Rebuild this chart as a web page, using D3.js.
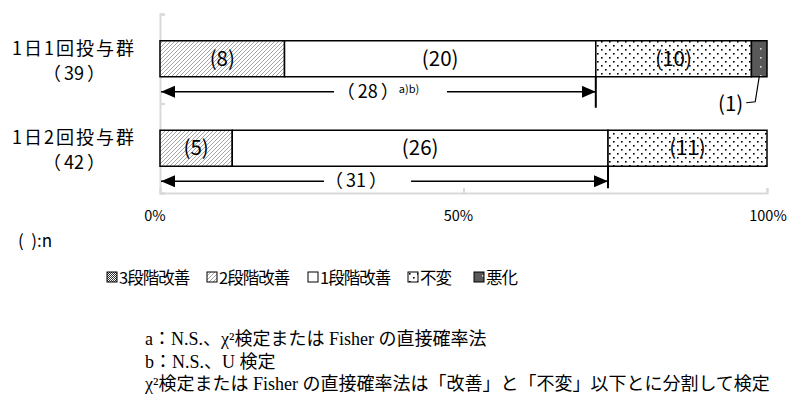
<!DOCTYPE html>
<html>
<head>
<meta charset="utf-8">
<script src="https://cdn.jsdelivr.net/npm/d3@7"></script>
<style>
  body { margin: 0; background: #fff; }
  svg { display: block; }
  .jp { font-family: "Noto Sans CJK JP", "Open Sans", sans-serif; }
  .serif { font-family: "Liberation Serif", "Noto Sans CJK JP", serif; }
</style>
</head>
<body>
<svg width="787" height="403"></svg>
<script>
// **** data ****
var groups = ["1日1回投与群", "1日2回投与群"];
var groupN = [39, 42];
var categories = ["3段階改善", "2段階改善", "1段階改善", "不変", "悪化"];
var countsOnce = [0, 8, 20, 10, 1];
var countsTwice = [0, 5, 26, 11, 0];
var improved = [28, 31];
var improvedNote = ["a)b)", ""];
var tickValues = [0, 0.5, 1];
var notes = [
    "a：N.S.、χ²検定または Fisher の直接確率法",
    "b：N.S.、U 検定",
    "χ²検定または Fisher の直接確率法は「改善」と「不変」以下とに分割して検定"
];

var svg = d3.select("svg");
var defs = svg.append("defs");

// patterns
var p2 = defs.append("pattern").attr("id", "hatch").attr("patternUnits", "userSpaceOnUse")
    .attr("width", 4).attr("height", 4);
p2.append("rect").attr("width", 4).attr("height", 4).attr("fill", "#fff");
p2.append("path").attr("d", "M-1,5 L5,-1 M-1,1 L1,-1 M3,5 L5,3").attr("stroke", "#9a9a9a").attr("stroke-width", 0.9);

var pd = defs.append("pattern").attr("id", "dots").attr("patternUnits", "userSpaceOnUse")
    .attr("width", 8).attr("height", 8);
pd.append("rect").attr("width", 8).attr("height", 8).attr("fill", "#fff");
pd.append("rect").attr("x", 1).attr("y", 1).attr("width", 1.6).attr("height", 1.6).attr("fill", "#000");
pd.append("rect").attr("x", 5).attr("y", 5).attr("width", 1.6).attr("height", 1.6).attr("fill", "#000");

var pw = defs.append("pattern").attr("id", "worse").attr("patternUnits", "userSpaceOnUse")
    .attr("width", 16).attr("height", 9);
pw.append("rect").attr("width", 16).attr("height", 9).attr("fill", "#595959");
pw.append("rect").attr("x", 8).attr("y", 3).attr("width", 1.6).attr("height", 1.6).attr("fill", "#ddd");

var pc = defs.append("pattern").attr("id", "checker").attr("patternUnits", "userSpaceOnUse")
    .attr("width", 2).attr("height", 2);
pc.append("rect").attr("width", 2).attr("height", 2).attr("fill", "#fff");
pc.append("rect").attr("width", 1).attr("height", 1).attr("fill", "#333");
pc.append("rect").attr("x", 1).attr("y", 1).attr("width", 1).attr("height", 1).attr("fill", "#333");

var fills = ["url(#checker)", "url(#hatch)", "#fff", "url(#dots)", "url(#worse)"];

// arrow marker
defs.append("marker").attr("id", "arr").attr("viewBox", "0 0 14 12")
    .attr("refX", 14).attr("refY", 6).attr("markerWidth", 14).attr("markerHeight", 12)
    .attr("markerUnits", "userSpaceOnUse").attr("orient", "auto-start-reverse")
    .append("path").attr("d", "M0,0 L14,6 L0,12 Z").attr("fill", "#000");

// **** scales ****
var xScale = d3.scaleLinear().domain([0, 1]).range([160, 767]);
var yScale = d3.scaleBand().domain(groups).range([14, 193]);
var barH = 36;

// frame / axes
svg.append("g")
    .attr("transform", "translate(0,193)")
    .call(d3.axisBottom(xScale).tickValues(tickValues).tickSize(-5).tickFormat(""))
    .call(function(g) {
        g.selectAll("line, path").attr("stroke", "#d9d9d9").attr("stroke-width", 2);
    });
svg.append("g")
    .attr("transform", "translate(160,0)")
    .call(d3.axisLeft(d3.scaleLinear().domain([0, 2]).range([14, 193])).ticks(2).tickSize(-5).tickFormat(""))
    .call(function(g) {
        g.selectAll("line, path").attr("stroke", "#d9d9d9").attr("stroke-width", 2);
    });

svg.selectAll(".tick-lab")
    .data(tickValues)
    .enter()
    .append("text")
    .attr("class", "jp")
    .attr("x", function(d) { return xScale(d) + (d === 1 ? 1 : -5); })
    .attr("y", 221)
    .attr("text-anchor", "middle")
    .style("font-size", "14.5px")
    .text(function(d) { return d3.format(".0%")(d); });

// text with spaced full-width brackets
function bracketed(sel, v) {
    sel.append("tspan").text("（");
    sel.append("tspan").attr("dx", 3).text(v);
    sel.append("tspan").attr("dx", 3).text("）");
}

// bars
var rows = [countsOnce, countsTwice];
rows.forEach(function(counts, i) {
    var total = groupN[i];
    var cum = 0;
    var segs = counts.map(function(c, k) {
        var s = { k: k, c: c, x0: cum / total, x1: (cum + c) / total };
        cum += c;
        return s;
    }).filter(function(s) { return s.c > 0; });
    var cy = yScale(groups[i]) + yScale.bandwidth() / 2;
    var g = svg.append("g");
    g.selectAll("rect")
        .data(segs)
        .enter()
        .append("rect")
        .attr("x", function(d) { return xScale(d.x0); })
        .attr("y", cy - barH / 2)
        .attr("width", function(d) { return xScale(d.x1) - xScale(d.x0); })
        .attr("height", barH)
        .attr("fill", function(d) { return fills[d.k]; })
        .attr("stroke", "#000")
        .attr("stroke-width", 1.5);
    g.selectAll("text")
        .data(segs.filter(function(d) { return d.c > 1; }))
        .enter()
        .append("text")
        .attr("class", "jp")
        .attr("x", function(d) { return (xScale(d.x0) + xScale(d.x1)) / 2; })
        .attr("y", cy + 7)
        .attr("text-anchor", "middle")
        .style("font-size", "20.5px")
        .text(function(d) { return "(" + d.c + ")"; });

    // group label
    svg.append("text").attr("class", "jp")
        .attr("x", 74).attr("y", cy - 4).attr("text-anchor", "middle")
        .style("font-size", "18px").style("letter-spacing", "2px").text(groups[i]);
    svg.append("text").attr("class", "jp")
        .attr("x", 74).attr("y", cy + 21).attr("text-anchor", "middle")
        .style("font-size", "18px").call(bracketed, groupN[i]);

    // improved arrow
    var xe = xScale(improved[i] / total);
    var ay = cy + 33;
    var txtX = i === 0 ? 366 : 356;
    var tg = svg.append("text").attr("class", "jp")
        .attr("x", txtX).attr("y", ay + 6).attr("text-anchor", "middle")
        .style("font-size", "18px").call(bracketed, improved[i]);
    if (improvedNote[i]) {
        tg.append("tspan").attr("dy", -5).style("font-size", "11px").text(improvedNote[i]);
        tg.attr("x", txtX + 12);
    }
    var left = txtX - 32;
    var right = txtX + (improvedNote[i] ? 81 : 55);
    svg.append("line").attr("x1", left).attr("y1", ay).attr("x2", 161).attr("y2", ay)
        .attr("stroke", "#000").attr("stroke-width", 1.5).attr("marker-end", "url(#arr)");
    svg.append("line").attr("x1", right).attr("y1", ay).attr("x2", xe).attr("y2", ay)
        .attr("stroke", "#000").attr("stroke-width", 1.5).attr("marker-end", "url(#arr)");
    svg.append("line").attr("x1", xe).attr("y1", cy + barH / 2).attr("x2", xe).attr("y2", cy + barH / 2 + (i === 0 ? 31 : 22))
        .attr("stroke", "#000").attr("stroke-width", 2);

    // small-segment callout
    segs.filter(function(d) { return d.c === 1; }).forEach(function(d) {
        var mx = (xScale(d.x0) + xScale(d.x1)) / 2;
        svg.append("path")
            .attr("d", "M" + mx + "," + (cy + barH / 2) + " L" + (mx - 4) + "," + (cy + 43) + " L" + (mx - 13) + "," + (cy + 44))
            .attr("fill", "none").attr("stroke", "#000").attr("stroke-width", 1.2);
        svg.append("text").attr("class", "jp")
            .attr("x", mx - 16).attr("y", cy + 52).attr("text-anchor", "end")
            .style("font-size", "20.5px").text("(" + d.c + ")");
    });
});

svg.append("text").attr("class", "jp")
    .attr("x", 18).attr("y", 247).style("font-size", "17px").style("white-space", "pre")
    .text("(  ):n");

// legend
var legX = [107, 207, 308, 408, 474];
var leg = svg.selectAll(".leg")
    .data(categories)
    .enter()
    .append("g")
    .attr("transform", function(d, i) { return "translate(" + legX[i] + ",272)"; });
leg.append("rect")
    .attr("width", 10).attr("height", 10)
    .attr("fill", function(d, i) { return fills[i]; })
    .attr("stroke", "#000").attr("stroke-width", 1);
leg.append("text").attr("class", "jp")
    .attr("x", 12).attr("y", 11.5)
    .style("font-size", "16.5px").style("letter-spacing", "-1px")
    .text(function(d) { return d; });

// footnotes
svg.selectAll(".note")
    .data(notes)
    .enter()
    .append("text")
    .attr("class", "serif")
    .attr("x", 145)
    .attr("y", function(d, i) { return 345 + i * 22.5; })
    .style("font-size", "18px")
    .text(function(d) { return d; });
</script>
</body>
</html>
